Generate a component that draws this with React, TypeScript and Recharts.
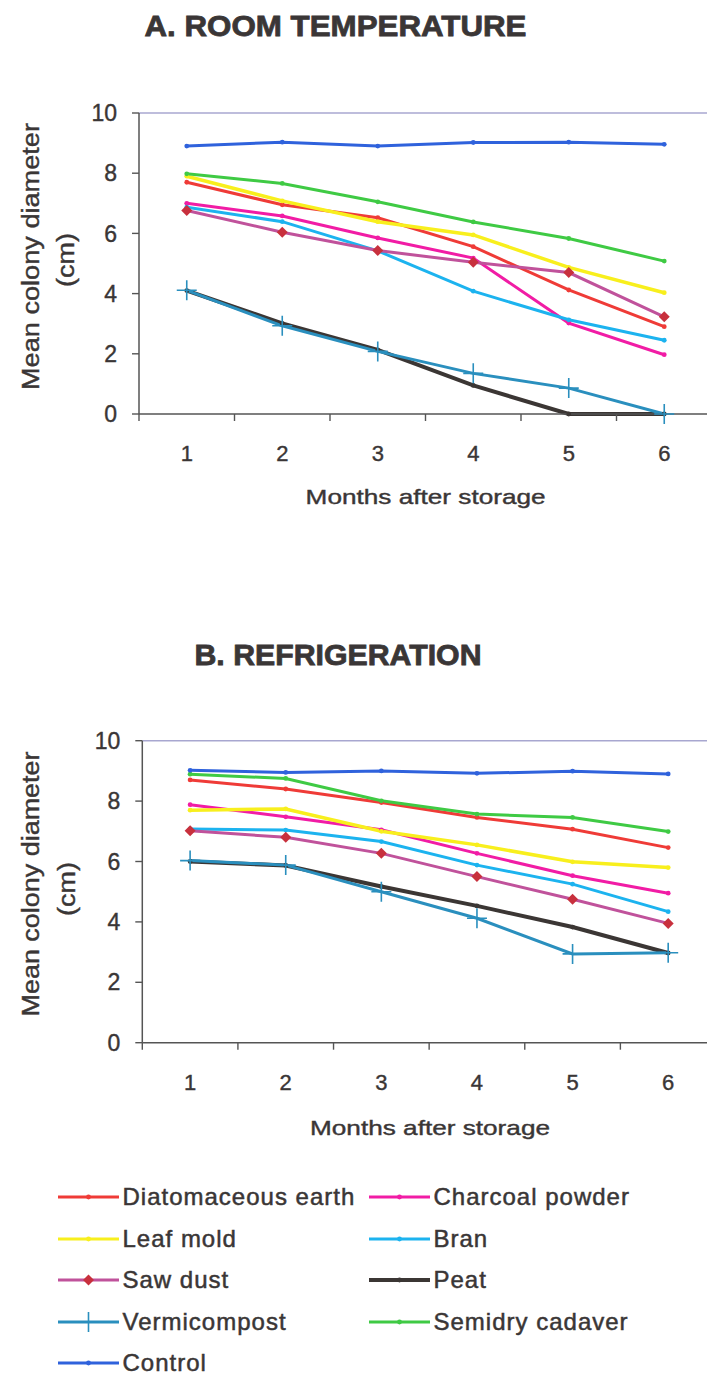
import { LineChart, Line, XAxis, YAxis, ReferenceLine } from "recharts";

const FONT = '"Liberation Sans", Arial, sans-serif';
const TEXT = "#3a3636";
const AXIS = "#555555";
const FRAME = "#a8a7d0";

const MONTHS = [1, 2, 3, 4, 5, 6];
const X_TICKS = [0.5, 1, 1.5, 2, 2.5, 3, 3.5, 4, 4.5, 5, 5.5, 6, 6.5];
const Y_TICKS = [0, 2, 4, 6, 8, 10];

// A. room temperature
const roomDiatomaceous = [7.7, 6.95, 6.52, 5.56, 4.12, 2.9];
const roomCharcoal = [7.0, 6.58, 5.85, 5.18, 3.02, 1.97];
const roomLeafMold = [7.9, 7.08, 6.39, 5.95, 4.87, 4.03];
const roomBran = [6.87, 6.39, 5.42, 4.08, 3.13, 2.45];
const roomSawDust = [6.76, 6.04, 5.43, 5.04, 4.7, 3.23];
const roomPeat = [4.1, 3.01, 2.13, 0.95, 0, 0];
const roomVermicompost = [4.11, 2.93, 2.08, 1.35, 0.86, 0];
const roomSemidry = [7.98, 7.66, 7.05, 6.38, 5.83, 5.08];
const roomControl = [8.9, 9.03, 8.9, 9.02, 9.03, 8.96];

// B. refrigeration
const refDiatomaceous = [8.7, 8.4, 7.95, 7.46, 7.07, 6.46];
const refCharcoal = [7.88, 7.48, 7.05, 6.27, 5.53, 4.95];
const refLeafMold = [7.7, 7.74, 7.0, 6.55, 5.99, 5.8];
const refBran = [7.08, 7.04, 6.66, 5.88, 5.25, 4.34];
const refSawDust = [7.02, 6.8, 6.27, 5.5, 4.75, 3.95];
const refPeat = [6.0, 5.87, 5.17, 4.53, 3.83, 2.97];
const refVermicompost = [6.03, 5.88, 5.0, 4.12, 2.94, 2.98];
const refSemidry = [8.89, 8.75, 8.01, 7.57, 7.46, 6.99];
const refControl = [9.02, 8.95, 9.0, 8.92, 8.99, 8.9];

type Marker = "dot" | "diamond" | "plus";
type Series = { key: string; name: string; color: string; width: number; marker: Marker };

// drawing order = legend order (row by row)
const SERIES: Series[] = [
  { key: "diatomaceous", name: "Diatomaceous earth", color: "#ef3b37", width: 3, marker: "dot" },
  { key: "charcoal", name: "Charcoal powder", color: "#f11ca5", width: 3, marker: "dot" },
  { key: "leafMold", name: "Leaf mold", color: "#f8ef1d", width: 3.5, marker: "dot" },
  { key: "bran", name: "Bran", color: "#1cb3ef", width: 3, marker: "dot" },
  { key: "sawDust", name: "Saw dust", color: "#c0529b", width: 3, marker: "diamond" },
  { key: "peat", name: "Peat", color: "#3b3634", width: 4, marker: "dot" },
  { key: "vermicompost", name: "Vermicompost", color: "#2a8fbe", width: 3, marker: "plus" },
  { key: "semidry", name: "Semidry cadaver", color: "#3fca44", width: 3, marker: "dot" },
  { key: "control", name: "Control", color: "#2f62dc", width: 3, marker: "dot" },
];

const buildRows = (values: Record<string, number[]>) =>
  MONTHS.map((month, i) => {
    const row: Record<string, number> = { month };
    Object.keys(values).forEach((k) => {
      row[k] = values[k][i];
    });
    return row;
  });

const roomRows = buildRows({
  diatomaceous: roomDiatomaceous,
  charcoal: roomCharcoal,
  leafMold: roomLeafMold,
  bran: roomBran,
  sawDust: roomSawDust,
  peat: roomPeat,
  vermicompost: roomVermicompost,
  semidry: roomSemidry,
  control: roomControl,
});

const refRows = buildRows({
  diatomaceous: refDiatomaceous,
  charcoal: refCharcoal,
  leafMold: refLeafMold,
  bran: refBran,
  sawDust: refSawDust,
  peat: refPeat,
  vermicompost: refVermicompost,
  semidry: refSemidry,
  control: refControl,
});

const markerShape = (marker: Marker, color: string, cx: number, cy: number, key?: any) => {
  if (marker === "diamond") {
    return (
      <path
        key={key}
        d={`M${cx},${cy - 5.5} L${cx + 5.5},${cy} L${cx},${cy + 5.5} L${cx - 5.5},${cy} Z`}
        fill="#c8303d"
      />
    );
  }
  if (marker === "plus") {
    return (
      <path
        key={key}
        d={`M${cx},${cy - 10} V${cy + 10} M${cx - 10},${cy} H${cx + 10}`}
        stroke={color}
        strokeWidth={1.6}
        fill="none"
      />
    );
  }
  return <circle key={key} cx={cx} cy={cy} r={2.4} fill={color} />;
};

const renderDot = (s: Series) => (props: any) => {
  const { cx, cy, index } = props;
  if (cx == null || cy == null) return <g key={index} />;
  return markerShape(s.marker, s.color, cx, cy, index);
};

const MonthTick = (props: any) => {
  const { x, y, payload } = props;
  const v = payload.value;
  if (!Number.isInteger(v)) {
    return <line x1={x} x2={x} y1={y} y2={y + 7} stroke={AXIS} strokeWidth={1.4} />;
  }
  return (
    <text
      x={x}
      y={y + 47}
      textAnchor="middle"
      fontSize={22}
      fill={TEXT}
      stroke={TEXT}
      strokeWidth={0.4}
      fontFamily={FONT}
    >
      {v}
    </text>
  );
};

type ChartProps = {
  rows: Record<string, number>[];
  top: number;
  margin: { top: number; right: number; left: number; bottom: number };
  xAxisHeight: number;
};

const ConditionChart = ({ rows, top, margin, xAxisHeight }: ChartProps) => (
  <div style={{ position: "absolute", left: 0, top }}>
    <LineChart width={720} height={520} data={rows} margin={margin}>
      <ReferenceLine y={10} stroke={FRAME} strokeWidth={1.4} />
      <XAxis
        dataKey="month"
        type="number"
        domain={[0.5, 6.5]}
        ticks={X_TICKS}
        interval={0}
        height={xAxisHeight}
        tickSize={0}
        tickMargin={0}
        tickLine={false}
        tick={<MonthTick />}
        axisLine={{ stroke: AXIS, strokeWidth: 1.5 }}
      />
      <YAxis
        type="number"
        domain={[0, 10]}
        ticks={Y_TICKS}
        interval={0}
        width={60}
        tickSize={7}
        tickMargin={15}
        tick={{ fontSize: 23, fill: TEXT, stroke: TEXT, strokeWidth: 0.4, fontFamily: FONT }}
        tickLine={{ stroke: AXIS, strokeWidth: 1.4 }}
        axisLine={{ stroke: AXIS, strokeWidth: 1.5 }}
      />
      {SERIES.map((s) => (
        <Line
          key={s.key}
          type="linear"
          dataKey={s.key}
          name={s.name}
          stroke={s.color}
          strokeWidth={s.width}
          dot={renderDot(s)}
          activeDot={false}
          isAnimationActive={false}
        />
      ))}
    </LineChart>
  </div>
);

const Labels = () => (
  <svg
    width={707}
    height={1376}
    style={{ position: "absolute", left: 0, top: 0, pointerEvents: "none" }}
    fontFamily={FONT}
    fill={TEXT}
    stroke={TEXT}
    strokeWidth={0.4}
  >
    <text x={335.5} y={36} textAnchor="middle" fontSize={29} fontWeight="bold" strokeWidth={0.8} textLength={382} lengthAdjust="spacingAndGlyphs">
      A. ROOM TEMPERATURE
    </text>
    <text x={338} y={665} textAnchor="middle" fontSize={29} fontWeight="bold" strokeWidth={0.8} textLength={287} lengthAdjust="spacingAndGlyphs">
      B. REFRIGERATION
    </text>
    <text x={425.6} y={504} textAnchor="middle" fontSize={21} textLength={240} lengthAdjust="spacingAndGlyphs">
      Months after storage
    </text>
    <text x={430} y={1135} textAnchor="middle" fontSize={21} textLength={240} lengthAdjust="spacingAndGlyphs">
      Months after storage
    </text>
    <text transform="translate(39,256.5) rotate(-90)" textAnchor="middle" fontSize={23} textLength={267} lengthAdjust="spacingAndGlyphs">
      Mean colony diameter
    </text>
    <text transform="translate(74,260) rotate(-90)" textAnchor="middle" fontSize={23} textLength={54} lengthAdjust="spacingAndGlyphs">
      (cm)
    </text>
    <text transform="translate(39,884) rotate(-90)" textAnchor="middle" fontSize={23} textLength={265} lengthAdjust="spacingAndGlyphs">
      Mean colony diameter
    </text>
    <text transform="translate(75,889) rotate(-90)" textAnchor="middle" fontSize={23} textLength={54} lengthAdjust="spacingAndGlyphs">
      (cm)
    </text>
  </svg>
);

const LegendBlock = () => (
  <div style={{ position: "absolute", left: 0, top: 0 }}>
    {SERIES.map((s, i) => {
      const col = i % 2;
      const row = Math.floor(i / 2);
      const left = col === 0 ? 57.5 : 368.5;
      const centerY = 1197 + row * 41.6;
      return (
        <div
          key={s.key}
          style={{
            position: "absolute",
            left,
            top: centerY - 12,
            height: 24,
            display: "flex",
            alignItems: "center",
            whiteSpace: "nowrap",
          }}
        >
          <svg width={61} height={24} style={{ display: "block" }}>
            <line x1={0} x2={61} y1={12} y2={12} stroke={s.color} strokeWidth={s.key === "peat" ? 4 : 3} />
            {markerShape(s.marker, s.color, 30.5, 12)}
          </svg>
          <span
            style={{
              marginLeft: 4,
              fontFamily: FONT,
              fontSize: 24,
              lineHeight: "24px",
              letterSpacing: "1px",
              color: TEXT,
              WebkitTextStroke: "0.5px " + TEXT,
            }}
          >
            {s.name}
          </span>
        </div>
      );
    })}
  </div>
);

export default function App() {
  return (
    <div
      style={{
        position: "absolute",
        left: 0,
        top: 0,
        width: 707,
        height: 1376,
        overflow: "hidden",
        background: "#ffffff",
      }}
    >
      <ConditionChart
        rows={roomRows}
        top={0}
        margin={{ top: 113, right: 8, left: 79, bottom: 0 }}
        xAxisHeight={106}
      />
      <ConditionChart
        rows={refRows}
        top={620}
        margin={{ top: 120.7, right: 4, left: 82.3, bottom: 0 }}
        xAxisHeight={97.3}
      />
      <Labels />
      <LegendBlock />
    </div>
  );
}
